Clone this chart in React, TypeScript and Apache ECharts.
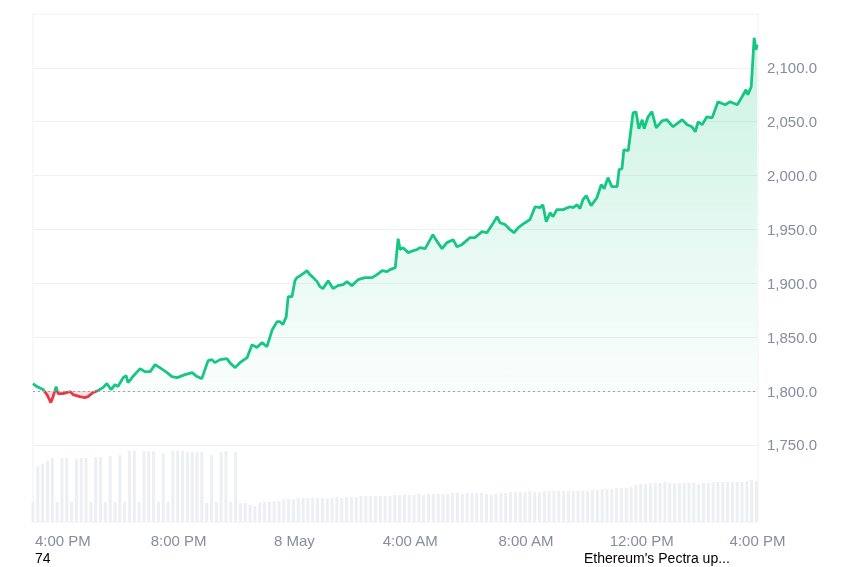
import React, { useEffect, useRef } from "react";
import * as echarts from "echarts";

// minutes after 14:58 on 7 May
const priceMinutes = [0,8,21,29,37,41,48,52,62,77,83,97,108,114,124,135,145,153,162,170,176,187,193,197,207,222,232,243,253,263,278,288,299,315,330,340,350,363,371,377,388,402,408,419,429,444,454,464,475,485,496,506,512,518,525,529,537,543,547,554,560,568,574,581,589,595,601,612,622,632,643,651,661,674,688,703,713,724,734,740,751,757,761,767,778,788,796,802,813,829,838,848,858,871,879,889,906,916,931,941,952,962,968,979,989,997,1006,1020,1030,1041,1051,1057,1064,1072,1078,1086,1099,1113,1120,1128,1134,1140,1147,1157,1169,1178,1184,1192,1200,1211,1215,1221,1225,1234,1244,1250,1256,1263,1267,1275,1283,1292,1304,1314,1327,1346,1356,1366,1373,1379,1387,1397,1408,1420,1435,1445,1460,1470,1478,1482,1489,1495,1499,1501];

const prices = [1807.0,1804.2,1801.4,1796.8,1789.3,1794.0,1804.2,1797.7,1797.7,1799.5,1796.8,1794.9,1794.0,1794.9,1798.6,1800.5,1803.2,1807.0,1801.4,1806.0,1804.2,1812.5,1814.4,1807.9,1813.5,1820.9,1818.1,1818.1,1824.6,1821.8,1817.2,1813.5,1812.5,1815.3,1817.2,1813.5,1811.6,1828.3,1829.2,1826.4,1829.2,1830.1,1826.4,1821.8,1826.4,1831.1,1843.1,1840.4,1845.0,1841.3,1857.0,1864.5,1864.5,1861.7,1869.1,1887.7,1887.7,1902.5,1905.3,1907.1,1909.0,1911.8,1908.1,1905.3,1901.6,1896.9,1895.1,1902.5,1895.1,1897.9,1898.8,1901.6,1897.9,1903.4,1905.3,1905.3,1908.1,1911.8,1910.9,1912.7,1914.6,1941.5,1931.3,1933.1,1928.5,1930.3,1931.3,1933.1,1932.2,1945.2,1938.7,1932.2,1937.8,1940.5,1934.0,1935.9,1942.4,1942.4,1948.0,1947.0,1954.5,1961.9,1956.3,1954.5,1949.8,1947.0,1951.7,1956.3,1959.1,1971.1,1970.2,1973.0,1957.2,1965.6,1961.9,1968.4,1968.4,1971.1,1970.2,1973.0,1969.3,1977.6,1981.4,1972.1,1979.5,1991.6,1987.8,1998.1,1989.7,1989.7,2005.5,2006.4,2024.0,2023.1,2058.3,2059.3,2043.5,2051.9,2043.5,2054.6,2059.3,2044.4,2050.9,2051.9,2045.4,2051.9,2047.2,2045.4,2040.7,2050.0,2047.2,2054.6,2053.7,2068.6,2065.8,2068.6,2065.8,2073.2,2079.7,2075.0,2082.5,2127.9,2116.8,2121.4];

// one volume bar every 10 minutes from 14:58
const VOLUME_STEP_MIN = 10;
const volumes = [20,56,58,61,64,20,64,64,20,63,64,64,20,65,65,20,66,20,67,20,71,71,20,71,71,71,20,69,20,71,71,71,70,70,70,70,19,67,20,70,71,20,70,19,
  19,17,16,19,20,20,21,21,23,23,23,24,24,24,24,24,24,23,24,25,24,25,25,25,26,26,26,26,26,26,26,27,27,27,27,27,28,27,28,28,28,28,28,29,29,28,29,29,29,29,28,27,28,29,29,30,30,30,30,31,30,30,31,31,31,31,31,31,31,31,31,31,32,32,33,33,33,34,34,34,35,37,38,38,39,39,39,40,39,39,39,39,39,39,38,39,39,40,40,40,40,40,40,40,41,42,41];

const tickMinutes = [62, 302, 542, 782, 1022, 1262, 1502];
const tickLabels = ["4:00 PM", "8:00 PM", "8 May", "4:00 AM", "8:00 AM", "12:00 PM", "4:00 PM"];
const priceTicks = [1750, 1800, 1850, 1900, 1950, 2000, 2050, 2100];
const baseline = 1800;
const footerLeft = "74";
const footerRight = "Ethereum's Pectra up...";

export default function App() {
  const ref = useRef<HTMLDivElement>(null);
  useEffect(() => {
    const chart = echarts.init(ref.current!, null, { renderer: "svg" });
    const green = "#16c784";
    const red = "#ea3943";
    const labelColor = "#858d9e";
    const font = "Liberation Sans";
    const priceData = priceMinutes.map((m, i) => [m, prices[i]]);
    const volData = volumes.map((v, i) => [i * VOLUME_STEP_MIN, v]);
    const maxP = Math.max(...prices);
    const minP = Math.min(...prices, baseline);
    const split = (maxP - baseline) / (maxP - minP);
    chart.setOption({
      animation: false,
      grid: {
        left: 33, right: 92, top: 14, bottom: 45,
        show: true, borderColor: "#eef1f4", borderWidth: 1,
      },
      xAxis: {
        type: "value", min: 0, max: 1503,
        axisLine: { show: false }, axisTick: { show: false }, splitLine: { show: false },
        axisLabel: {
          customValues: tickMinutes,
          formatter: (v: number) => {
            const k = tickMinutes.indexOf(Math.round(v));
            return k >= 0 ? tickLabels[k] : "";
          },
          color: labelColor, fontSize: 15, fontFamily: font, margin: 11,
        },
      },
      yAxis: [
        {
          type: "value", position: "right", min: 1678.5, max: 2150,
          axisLine: { show: false },
          axisTick: { show: false, customValues: priceTicks },
          splitLine: { show: true, lineStyle: { color: "#eef1f4", width: 1 } },
          axisLabel: {
            customValues: priceTicks,
            formatter: (v: number) => v.toLocaleString("en-US", { minimumFractionDigits: 1, maximumFractionDigits: 1 }),
            color: labelColor, fontSize: 15, fontFamily: font, margin: 9,
          },
        },
        { type: "value", min: 0, max: 508, show: false, splitLine: { show: false } },
      ],
      visualMap: {
        type: "piecewise", show: false, seriesIndex: 1, dimension: 1,
        pieces: [
          { gt: 1000, lte: baseline, color: red },
          { gt: baseline, lte: 3000, color: green },
        ],
      },
      series: [
        {
          type: "bar", yAxisIndex: 1, data: volData, barWidth: 3,
          itemStyle: { color: "#eceff3" }, silent: true, z: 1,
        },
        {
          type: "line", data: priceData, showSymbol: false, smooth: false, z: 3,
          lineStyle: { width: 2.8 },
          areaStyle: {
            origin: baseline,
            color: new echarts.graphic.LinearGradient(0, 0, 0, 1, [
              { offset: 0, color: "rgba(22,199,132,0.32)" },
              { offset: split, color: "rgba(22,199,132,0.03)" },
              { offset: split, color: "rgba(234,57,67,0.2)" },
              { offset: 1, color: "rgba(234,57,67,0.2)" },
            ]),
          },
          markLine: {
            silent: true, symbol: "none", label: { show: false },
            lineStyle: { type: [2, 3], color: "#9ea3aa", width: 1 },
            data: [{ yAxis: baseline }],
          },
        },
      ],
      graphic: [
        { type: "text", left: 35, top: 551, style: { text: footerLeft, fill: "#000", font: `14px "${font}"` } },
        { type: "text", left: 584, top: 551, style: { text: footerRight, fill: "#000", font: `14px "${font}"` } },
      ],
    });
    return () => chart.dispose();
  }, []);
  return <div ref={ref} style={{ position: "fixed", left: 0, top: 0, width: 850, height: 567 }} />;
}
